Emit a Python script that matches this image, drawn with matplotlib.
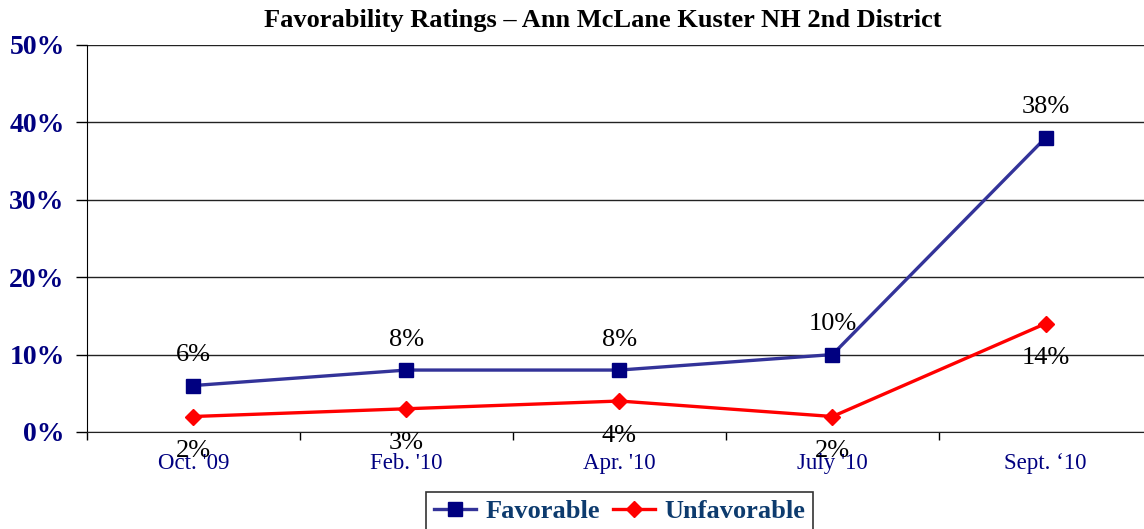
import matplotlib.pyplot as plt
import numpy as np

months = ["Oct. '09", "Feb. '10", "Apr. '10", "July '10", "Sept. \u201810"]
favorable = [6, 8, 8, 10, 38]
unfavorable = [2, 3, 4, 2, 14]
yticks = [0, 10, 20, 30, 40, 50]

plt.rcParams['font.family'] = ['Liberation Serif', 'DejaVu Serif']

fig = plt.figure(figsize=(11.44, 5.29), dpi=100)
ax = fig.add_axes([0.076, 0.1834, 0.931, 0.7316])

x = np.arange(len(months))
fav_line, = ax.plot(x, favorable, color="#333399", lw=2.4, marker="s",
                    markersize=10, markerfacecolor="#000080", markeredgecolor="#000080",
                    label="Favorable", zorder=3)
unf_line, = ax.plot(x, unfavorable, color="#ff0000", lw=2.4, marker="D",
                    markersize=8, markerfacecolor="#ff0000", markeredgecolor="#ff0000",
                    label="Unfavorable", zorder=3)

# data labels (the low ones sit on the category labels, as in the original)
for i, v in enumerate(favorable):
    ax.annotate(f"{v}%", (i, v), xytext=(0, 22), textcoords="offset points",
                ha="center", va="center", fontsize=19, color="black")
for i, v in enumerate(unfavorable):
    ax.annotate(f"{v}%", (i, v), xytext=(0, -25), textcoords="offset points",
                ha="center", va="center", fontsize=19, color="black", zorder=5,
                annotation_clip=False)

ax.set_xlim(-0.5, len(months) - 0.5)
ax.set_ylim(0, 50)
ax.set_yticks(yticks)
ax.set_yticklabels([f"{t}%" for t in yticks], fontsize=20, fontweight="bold", color="#000080")
ax.set_xticks(x)
ax.set_xticklabels(months, fontsize=16.5, color="#000080")
ax.set_xticks(np.arange(len(months) + 1) - 0.5, minor=True)
ax.tick_params(axis="x", which="major", length=0, pad=15)
ax.tick_params(axis="x", which="minor", length=6, direction="out", width=1)
ax.tick_params(axis="y", length=8, width=1, direction="out", pad=8)

ax.grid(axis="y", color="#222222", lw=1)
ax.set_axisbelow(True)
for s in ["top", "right"]:
    ax.spines[s].set_visible(False)
ax.spines["left"].set_color("black")
ax.spines["bottom"].set_color("#222222")

fig.text(0.527, 0.962, "Favorability Ratings \u2013 Ann McLane Kuster NH 2nd District",
         ha="center", va="center", fontsize=19, fontweight="bold")

leg = fig.legend(handles=[fav_line, unf_line], loc="upper center",
                 bbox_to_anchor=(0.5415, 0.070), ncol=2, frameon=True, fancybox=False,
                 edgecolor="black", fontsize=19, handlelength=1.6, columnspacing=0.5,
                 borderpad=0.3, handletextpad=0.35, borderaxespad=0)
leg.get_frame().set_linewidth(1.2)
for t in leg.get_texts():
    t.set_color("#0d3b6e")
    t.set_fontweight("bold")

fig.savefig("out.png", dpi=100)
